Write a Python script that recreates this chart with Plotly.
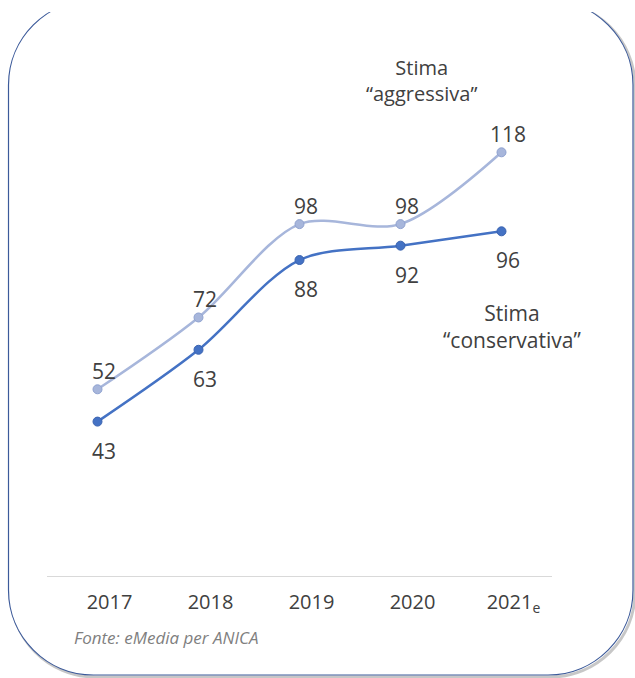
import plotly.graph_objects as go

years = ["2017", "2018", "2019", "2020", "2021"]
tick_labels = ["2017", "2018", "2019", "2020", "2021<sub>e</sub>"]
aggressive = [52, 72, 98, 98, 118]
conservative = [43, 63, 88, 92, 96]
name_aggr = "Stima<br>“aggressiva”"
name_cons = "Stima<br>“conservativa”"
source_note = "Fonte: eMedia per ANICA"

W, H = 635, 678
FONT = "Open Sans"
TXT = "#404040"
C_AGGR = "#A7B6DB"
C_CONS = "#4472C4"


def px(x):
    return x / W


def py(y):
    return 1 - y / H


def rounded_rect_path(x0, y0, x1, y1, r, dx=0, dy=0):
    k = 0.5523 * r
    x0 += dx; x1 += dx; y0 += dy; y1 += dy
    pts = []
    pts.append(("M", [(x0 + r, y0)]))
    pts.append(("L", [(x1 - r, y0)]))
    pts.append(("C", [(x1 - r + k, y0), (x1, y0 + r - k), (x1, y0 + r)]))
    pts.append(("L", [(x1, y1 - r)]))
    pts.append(("C", [(x1, y1 - r + k), (x1 - r + k, y1), (x1 - r, y1)]))
    pts.append(("L", [(x0 + r, y1)]))
    pts.append(("C", [(x0 + r - k, y1), (x0, y1 - r + k), (x0, y1 - r)]))
    pts.append(("L", [(x0, y0 + r)]))
    pts.append(("C", [(x0, y0 + r - k), (x0 + r - k, y0), (x0 + r, y0)]))
    s = ""
    for cmd, ps in pts:
        s += cmd + " " + " ".join(f"{px(a):.5f},{py(b):.5f}" for a, b in ps) + " "
    return s + "Z"


xi = list(range(len(years)))

fig = go.Figure()

fig.add_trace(go.Scatter(
    x=xi, y=aggressive, mode="lines+markers",
    line=dict(color=C_AGGR, width=2.5, shape="spline", smoothing=0.9),
    marker=dict(size=9, color=C_AGGR, line=dict(color="#8FA2D0", width=1)),
    showlegend=False, hoverinfo="skip"))
fig.add_trace(go.Scatter(
    x=xi, y=conservative, mode="lines+markers",
    line=dict(color=C_CONS, width=2.5, shape="spline", smoothing=0.9),
    marker=dict(size=9, color=C_CONS, line=dict(color="#3A63B0", width=1)),
    showlegend=False, hoverinfo="skip"))

annotations = []
for i, v in zip(xi, aggressive):
    annotations.append(dict(x=i, y=v, xref="x", yref="y", text=str(v), showarrow=False,
                            xshift=6, yshift=18, font=dict(family=FONT, size=21, color=TXT)))
for i, v in zip(xi, conservative):
    annotations.append(dict(x=i, y=v, xref="x", yref="y", text=str(v), showarrow=False,
                            xshift=6, yshift=-29, font=dict(family=FONT, size=21, color=TXT)))

annotations.append(dict(x=px(421), y=py(81), xref="paper", yref="paper", text=name_aggr,
                        showarrow=False, xanchor="center", yanchor="middle", align="center",
                        font=dict(family=FONT, size=20, color=TXT)))
annotations.append(dict(x=px(512), y=py(326), xref="paper", yref="paper", text=name_cons,
                        showarrow=False, xanchor="center", yanchor="middle", align="center",
                        font=dict(family=FONT, size=21, color=TXT)))
annotations.append(dict(x=px(72), y=py(637), xref="paper", yref="paper", text=f"<i>{source_note}</i>",
                        showarrow=False, xanchor="left", yanchor="middle",
                        font=dict(family=FONT, size=17, color="#7F7F7F")))

shapes = [
    dict(type="path", xref="paper", yref="paper",
         path=rounded_rect_path(8.5, 0, 633, 675, 85, dx=2, dy=2),
         line=dict(color="rgba(0,0,0,0.22)", width=3), layer="below"),
    dict(type="path", xref="paper", yref="paper",
         path=rounded_rect_path(8.5, 0, 633, 675, 85),
         line=dict(color="#3C5A9A", width=1.2), fillcolor="white", layer="below"),
    dict(type="rect", xref="paper", yref="paper", x0=0, x1=1, y0=py(12), y1=1,
         line=dict(width=0), fillcolor="white", layer="below"),
]

fig.update_layout(
    width=W, height=H,
    margin=dict(l=0, r=0, t=0, b=0),
    paper_bgcolor="white", plot_bgcolor="rgba(0,0,0,0)",
    annotations=annotations, shapes=shapes,
    xaxis=dict(domain=[px(47), px(552)], range=[-0.5, 4.5],
               showgrid=False, zeroline=False, showline=True, linecolor="#D9D9D9", linewidth=1.3,
               tickmode="array", tickvals=xi, ticktext=tick_labels, ticks="",
               ticklabelshift=12, ticklabelstandoff=8,
               tickfont=dict(family=FONT, size=20, color=TXT), fixedrange=True),
    yaxis=dict(domain=[py(576), py(37.4)], range=[0, 150], visible=False, fixedrange=True),
)

fig.write_html("out.html", config={"displayModeBar": False},
               post_script="document.body.style.margin='0px';")
